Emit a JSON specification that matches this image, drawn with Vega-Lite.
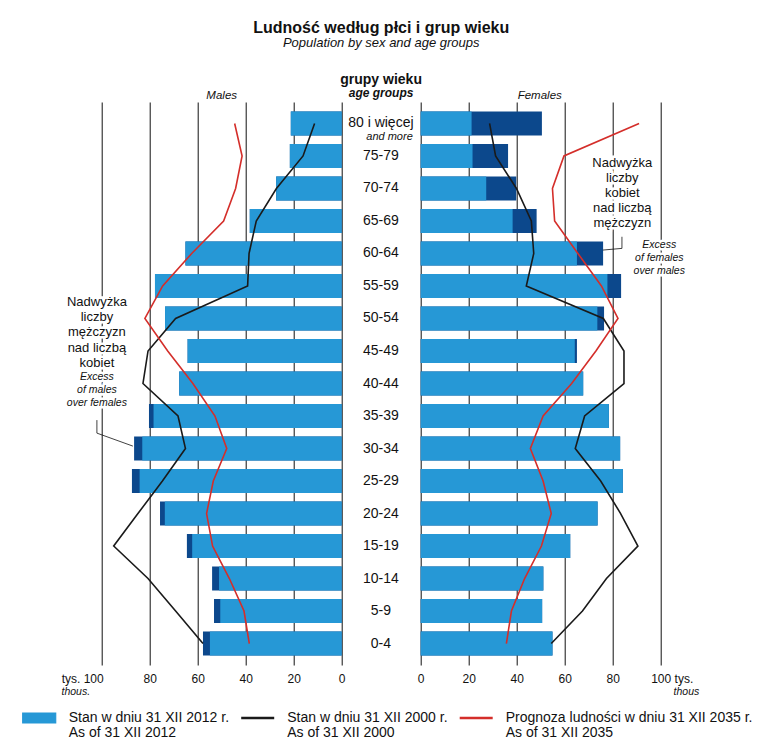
{
  "$schema": "https://vega.github.io/schema/vega-lite/v6.json",
  "width": 559,
  "height": 563,
  "autosize": {"type": "none"},
  "padding": {"left": 101.7, "top": 102, "right": 113.3, "bottom": 81},
  "title": {
    "text": "Ludność według płci i grup wieku",
    "subtitle": "Population by sex and age groups",
    "anchor": "middle",
    "font": "Liberation Sans",
    "fontSize": 16,
    "fontWeight": "bold",
    "color": "#111",
    "subtitleFont": "Liberation Sans",
    "subtitleFontSize": 13,
    "subtitleFontStyle": "italic",
    "subtitleColor": "#111",
    "subtitlePadding": 1,
    "offset": 23.5
  },
  "config": {
    "view": {"stroke": null},
    "font": "Liberation Sans",
    "text": {"font": "Liberation Sans", "color": "#111"}
  },
  "datasets": {
    "males": [
      {"i": 0, "age": "80 i więcej", "total": 21.2, "common": 21.2, "y2000": 11.3, "y2035": 44.6},
      {"i": 1, "age": "75-79", "total": 21.6, "common": 21.6, "y2000": 16.1, "y2035": 41.5},
      {"i": 2, "age": "70-74", "total": 27.3, "common": 27.3, "y2000": 27.2, "y2035": 44.2},
      {"i": 3, "age": "65-69", "total": 38.3, "common": 38.3, "y2000": 35.6, "y2035": 49.2},
      {"i": 4, "age": "60-64", "total": 65.1, "common": 65.1, "y2000": 38.6, "y2035": 62.5},
      {"i": 5, "age": "55-59", "total": 77.8, "common": 77.8, "y2000": 39.2, "y2035": 74.6},
      {"i": 6, "age": "50-54", "total": 73.6, "common": 73.6, "y2000": 69.2, "y2035": 82.0},
      {"i": 7, "age": "45-49", "total": 64.2, "common": 64.2, "y2000": 80.7, "y2035": 72.5},
      {"i": 8, "age": "40-44", "total": 67.7, "common": 67.7, "y2000": 82.8, "y2035": 62.0},
      {"i": 9, "age": "35-39", "total": 80.3, "common": 78.4, "y2000": 68.2, "y2035": 52.8},
      {"i": 10, "age": "30-34", "total": 86.5, "common": 83.1, "y2000": 65.1, "y2035": 47.9},
      {"i": 11, "age": "25-29", "total": 87.4, "common": 84.2, "y2000": 74.7, "y2035": 53.5},
      {"i": 12, "age": "20-24", "total": 75.7, "common": 73.7, "y2000": 84.9, "y2035": 56.3},
      {"i": 13, "age": "15-19", "total": 64.5, "common": 62.3, "y2000": 95.0, "y2035": 53.8},
      {"i": 14, "age": "10-14", "total": 54.0, "common": 51.1, "y2000": 80.7, "y2035": 46.8},
      {"i": 15, "age": "5-9", "total": 53.2, "common": 50.6, "y2000": 69.2, "y2035": 40.7},
      {"i": 16, "age": "0-4", "total": 57.8, "common": 54.9, "y2000": 57.8, "y2035": 38.5}
    ],
    "females": [
      {"i": 0, "age": "80 i więcej", "total": 50.5, "common": 21.2, "y2000": 28.7, "y2035": 91.0},
      {"i": 1, "age": "75-79", "total": 36.4, "common": 21.6, "y2000": 31.2, "y2035": 59.7},
      {"i": 2, "age": "70-74", "total": 39.8, "common": 27.3, "y2000": 39.9, "y2035": 54.9},
      {"i": 3, "age": "65-69", "total": 48.3, "common": 38.3, "y2000": 46.1, "y2035": 55.8},
      {"i": 4, "age": "60-64", "total": 76.0, "common": 65.1, "y2000": 47.1, "y2035": 65.5},
      {"i": 5, "age": "55-59", "total": 83.5, "common": 77.8, "y2000": 44.0, "y2035": 75.3},
      {"i": 6, "age": "50-54", "total": 76.4, "common": 73.6, "y2000": 76.1, "y2035": 82.2},
      {"i": 7, "age": "45-49", "total": 65.1, "common": 64.2, "y2000": 84.7, "y2035": 73.0},
      {"i": 8, "age": "40-44", "total": 67.7, "common": 67.7, "y2000": 84.7, "y2035": 62.9},
      {"i": 9, "age": "35-39", "total": 78.4, "common": 78.4, "y2000": 68.3, "y2035": 51.0},
      {"i": 10, "age": "30-34", "total": 83.1, "common": 83.1, "y2000": 64.4, "y2035": 45.7},
      {"i": 11, "age": "25-29", "total": 84.2, "common": 84.2, "y2000": 75.0, "y2035": 51.0},
      {"i": 12, "age": "20-24", "total": 73.7, "common": 73.7, "y2000": 83.3, "y2035": 54.4},
      {"i": 13, "age": "15-19", "total": 62.3, "common": 62.3, "y2000": 90.5, "y2035": 50.3},
      {"i": 14, "age": "10-14", "total": 51.1, "common": 51.1, "y2000": 77.4, "y2035": 43.3},
      {"i": 15, "age": "5-9", "total": 50.6, "common": 50.6, "y2000": 67.4, "y2035": 37.8},
      {"i": 16, "age": "0-4", "total": 54.9, "common": 54.9, "y2000": 54.4, "y2035": 35.7}
    ]
  },
  "layer": [
    {
      "data": {"name": "males"},
      "layer": [
        {
          "mark": {"type": "bar", "color": "#0c488c"},
          "encoding": {
            "x": {
              "field": "total", "type": "quantitative",
              "scale": {"domain": [-132.92, 100], "reverse": true, "nice": false, "zero": false},
              "axis": {
                "values": [0, 20, 40, 60, 80, 100], "title": null, "orient": "bottom",
                "grid": true, "gridColor": "#111", "gridWidth": 1, "gridOpacity": 1,
                "ticks": false, "domain": false, "labelPadding": 8.5, "labelFontSize": 12,
                "labelFont": "Liberation Sans", "labelColor": "#111", "labelFlush": false,
                "labelOverlap": false,
                "labelExpr": "datum.value == 100 ? 'tys. 100' : datum.label",
                "labelAlign": {"condition": {"test": "datum.value == 100", "value": "right"}, "value": "center"},
                "labelOffset": {"condition": {"test": "datum.value == 100", "value": 1.5}, "value": 0}
              }
            },
            "y": {
              "field": "age", "type": "nominal", "axis": null,
              "scale": {
                "domain": ["80 i więcej", "75-79", "70-74", "65-69", "60-64", "55-59", "50-54", "45-49", "40-44", "35-39", "30-34", "25-29", "20-24", "15-19", "10-14", "5-9", "0-4"],
                "paddingInner": 0.26, "paddingOuter": 0.29
              }
            }
          }
        },
        {
          "mark": {"type": "bar"},
          "encoding": {
            "x": {"field": "common", "type": "quantitative"},
            "y": {"field": "age", "type": "nominal", "axis": null},
            "color": {
              "datum": "2012", "type": "nominal",
              "scale": {"domain": ["2012", "2000", "2035"], "range": ["#2698d6", "#1a1a1a", "#d42e2a"]},
              "legend": {
                "orient": "none", "legendX": -79, "legendY": 609, "direction": "horizontal",
                "title": null, "padding": 0, "symbolOffset": 9.5, "labelOffset": 22.5,
                "columnPadding": 6.5, "labelFont": "Liberation Sans", "labelFontSize": 14,
                "labelColor": "#111", "labelLimit": 400,
                "labelExpr": "datum.value === '2012' ? ['Stan w dniu 31 XII 2012 r.', 'As of 31 XII 2012'] : datum.value === '2000' ? ['Stan w dniu 31 XII 2000 r.', 'As of 31 XII 2000'] : ['Prognoza ludności w dniu 31 XII 2035 r.', 'As of 31 XII 2035']",
                "encode": {
                  "symbols": {
                    "update": {
                      "shape": {"signal": "datum.value === '2012' ? 'M-1,-0.3H1V0.3H-1Z' : 'stroke'"},
                      "fill": {"signal": "datum.value === '2012' ? '#2698d6' : 'transparent'"},
                      "stroke": {"signal": "datum.value === '2012' ? '#1c3d6b' : datum.value === '2000' ? '#1a1a1a' : '#d42e2a'"},
                      "strokeWidth": {"signal": "datum.value === '2012' ? 1.2 : 2.4"},
                      "size": {"value": 1089},
                      "opacity": {"value": 1}
                    }
                  },
                  "labels": {"update": {"lineHeight": {"value": 15}}}
                }
              }
            }
          }
        },
        {
          "mark": {"type": "line", "strokeWidth": 1.6},
          "encoding": {
            "x": {"field": "y2000", "type": "quantitative"},
            "y": {"field": "age", "type": "nominal", "axis": null},
            "order": {"field": "i", "type": "quantitative"},
            "color": {"datum": "2000", "type": "nominal"}
          }
        },
        {
          "mark": {"type": "line", "strokeWidth": 1.6},
          "encoding": {
            "x": {"field": "y2035", "type": "quantitative"},
            "y": {"field": "age", "type": "nominal", "axis": null},
            "order": {"field": "i", "type": "quantitative"},
            "color": {"datum": "2035", "type": "nominal"}
          }
        },
        {
          "data": {"values": [{}]},
          "mark": {"type": "text", "fontSize": 13, "lineHeight": 15.2, "baseline": "middle", "align": "center", "stroke": "white", "strokeWidth": 5, "fill": "white", "yOffset": -16.4},
          "encoding": {
            "x": {"datum": 102.0, "type": "quantitative"},
            "y": {"datum": "50-54", "type": "nominal"},
            "text": {"value": ["Nadwyżka", "liczby", "mężczyzn", "nad liczbą", "kobiet"]}
          }
        },
        {
          "data": {"values": [{}]},
          "mark": {"type": "text", "fontSize": 10.5, "fontStyle": "italic", "lineHeight": 13, "baseline": "middle", "align": "center", "stroke": "white", "strokeWidth": 5, "fill": "white", "yOffset": -38.9},
          "encoding": {
            "x": {"datum": 102.0, "type": "quantitative"},
            "y": {"datum": "35-39", "type": "nominal"},
            "text": {"value": ["Excess", "of males", "over females"]}
          }
        },
        {
          "data": {"values": [{}]},
          "mark": {"type": "text", "fontSize": 13, "lineHeight": 15.2, "baseline": "middle", "align": "center", "color": "#111", "yOffset": -16.4},
          "encoding": {
            "x": {"datum": 102.0, "type": "quantitative"},
            "y": {"datum": "50-54", "type": "nominal"},
            "text": {"value": ["Nadwyżka", "liczby", "mężczyzn", "nad liczbą", "kobiet"]}
          }
        },
        {
          "data": {"values": [{}]},
          "mark": {"type": "text", "fontSize": 10.5, "fontStyle": "italic", "lineHeight": 13, "baseline": "middle", "align": "center", "color": "#111", "yOffset": -38.9},
          "encoding": {
            "x": {"datum": 102.0, "type": "quantitative"},
            "y": {"datum": "35-39", "type": "nominal"},
            "text": {"value": ["Excess", "of males", "over females"]}
          }
        },
        {
          "data": {"values": [{}]},
          "mark": {"type": "rule", "color": "#111", "strokeWidth": 0.8, "yOffset": 4.1, "y2Offset": -15.4},
          "encoding": {
            "x": {"datum": 102.0, "type": "quantitative"},
            "y": {"datum": "35-39", "type": "nominal"},
            "y2": {"datum": "30-34"}
          }
        },
        {
          "data": {"values": [{}]},
          "mark": {"type": "rule", "color": "#111", "strokeWidth": 0.8, "yOffset": -15.4, "y2Offset": -2.4},
          "encoding": {
            "x": {"datum": 102.0, "type": "quantitative"},
            "x2": {"datum": 87.0},
            "y": {"datum": "30-34", "type": "nominal"},
            "y2": {"datum": "30-34"}
          }
        },
        {
          "data": {"values": [{}]},
          "mark": {"type": "text", "fontSize": 11.5, "fontStyle": "italic", "baseline": "middle", "align": "center", "yOffset": -27.7},
          "encoding": {
            "x": {"datum": 50, "type": "quantitative"},
            "y": {"datum": "80 i więcej", "type": "nominal"},
            "text": {"value": "Males"}
          }
        },
        {
          "data": {"values": [{}]},
          "mark": {"type": "text", "fontSize": 10.5, "fontStyle": "italic", "baseline": "middle", "align": "center", "yOffset": 48.6},
          "encoding": {
            "x": {"datum": 110.8, "type": "quantitative"},
            "y": {"datum": "0-4", "type": "nominal"},
            "text": {"value": "thous."}
          }
        }
      ]
    },
    {
      "data": {"name": "females"},
      "layer": [
        {
          "mark": {"type": "bar", "color": "#0c488c"},
          "encoding": {
            "x": {
              "field": "total", "type": "quantitative",
              "scale": {"domain": [-132.92, 100], "nice": false, "zero": false},
              "axis": {
                "values": [0, 20, 40, 60, 80, 100], "title": null, "orient": "bottom",
                "grid": true, "gridColor": "#111", "gridWidth": 1, "gridOpacity": 1,
                "ticks": false, "domain": false, "labelPadding": 8.5, "labelFontSize": 12,
                "labelFont": "Liberation Sans", "labelColor": "#111", "labelFlush": false,
                "labelOverlap": false,
                "labelExpr": "datum.value == 100 ? '100 tys.' : datum.label",
                "labelAlign": {"condition": {"test": "datum.value == 100", "value": "left"}, "value": "center"},
                "labelOffset": {"condition": {"test": "datum.value == 100", "value": -10}, "value": 0}
              }
            },
            "y": {"field": "age", "type": "nominal", "axis": null}
          }
        },
        {
          "mark": {"type": "bar"},
          "encoding": {
            "x": {"field": "common", "type": "quantitative"},
            "y": {"field": "age", "type": "nominal", "axis": null},
            "color": {"datum": "2012", "type": "nominal"}
          }
        },
        {
          "mark": {"type": "line", "strokeWidth": 1.6},
          "encoding": {
            "x": {"field": "y2000", "type": "quantitative"},
            "y": {"field": "age", "type": "nominal", "axis": null},
            "order": {"field": "i", "type": "quantitative"},
            "color": {"datum": "2000", "type": "nominal"}
          }
        },
        {
          "mark": {"type": "line", "strokeWidth": 1.6},
          "encoding": {
            "x": {"field": "y2035", "type": "quantitative"},
            "y": {"field": "age", "type": "nominal", "axis": null},
            "order": {"field": "i", "type": "quantitative"},
            "color": {"datum": "2035", "type": "nominal"}
          }
        },
        {
          "mark": {"type": "text", "fontSize": 14, "baseline": "middle", "align": "center", "color": "#111"},
          "encoding": {
            "x": {"datum": -16.6, "type": "quantitative"},
            "y": {"field": "age", "type": "nominal", "axis": null},
            "text": {"field": "age", "type": "nominal"}
          }
        },
        {
          "data": {"values": [{}]},
          "mark": {"type": "text", "fontSize": 11, "fontStyle": "italic", "baseline": "middle", "align": "right", "yOffset": 13.3},
          "encoding": {
            "x": {"datum": -3.3, "type": "quantitative"},
            "y": {"datum": "80 i więcej", "type": "nominal"},
            "text": {"value": "and more"}
          }
        },
        {
          "data": {"values": [{}]},
          "mark": {"type": "text", "fontSize": 14, "fontWeight": "bold", "baseline": "middle", "align": "center", "yOffset": -43.4},
          "encoding": {
            "x": {"datum": -16.5, "type": "quantitative"},
            "y": {"datum": "80 i więcej", "type": "nominal"},
            "text": {"value": "grupy wieku"}
          }
        },
        {
          "data": {"values": [{}]},
          "mark": {"type": "text", "fontSize": 12, "fontWeight": "bold", "fontStyle": "italic", "baseline": "middle", "align": "center", "yOffset": -30.1},
          "encoding": {
            "x": {"datum": -16.5, "type": "quantitative"},
            "y": {"datum": "80 i więcej", "type": "nominal"},
            "text": {"value": "age groups"}
          }
        },
        {
          "data": {"values": [{}]},
          "mark": {"type": "text", "fontSize": 11.5, "fontStyle": "italic", "baseline": "middle", "align": "center", "yOffset": -27.7},
          "encoding": {
            "x": {"datum": 49.6, "type": "quantitative"},
            "y": {"datum": "80 i więcej", "type": "nominal"},
            "text": {"value": "Females"}
          }
        },
        {
          "data": {"values": [{}]},
          "mark": {"type": "text", "fontSize": 13, "lineHeight": 15, "baseline": "middle", "align": "center", "stroke": "white", "strokeWidth": 5, "fill": "white", "yOffset": -25.1},
          "encoding": {
            "x": {"datum": 84.0, "type": "quantitative"},
            "y": {"datum": "70-74", "type": "nominal"},
            "text": {"value": ["Nadwyżka", "liczby", "kobiet", "nad liczbą", "mężczyzn"]}
          }
        },
        {
          "data": {"values": [{}]},
          "mark": {"type": "text", "fontSize": 10.5, "fontStyle": "italic", "lineHeight": 13, "baseline": "middle", "align": "center", "stroke": "white", "strokeWidth": 5, "fill": "white", "yOffset": -8.4},
          "encoding": {
            "x": {"datum": 99.4, "type": "quantitative"},
            "y": {"datum": "60-64", "type": "nominal"},
            "text": {"value": ["Excess", "of females", "over males"]}
          }
        },
        {
          "data": {"values": [{}]},
          "mark": {"type": "text", "fontSize": 13, "lineHeight": 15, "baseline": "middle", "align": "center", "color": "#111", "yOffset": -25.1},
          "encoding": {
            "x": {"datum": 84.0, "type": "quantitative"},
            "y": {"datum": "70-74", "type": "nominal"},
            "text": {"value": ["Nadwyżka", "liczby", "kobiet", "nad liczbą", "mężczyzn"]}
          }
        },
        {
          "data": {"values": [{}]},
          "mark": {"type": "text", "fontSize": 10.5, "fontStyle": "italic", "lineHeight": 13, "baseline": "middle", "align": "center", "color": "#111", "yOffset": -8.4},
          "encoding": {
            "x": {"datum": 99.4, "type": "quantitative"},
            "y": {"datum": "60-64", "type": "nominal"},
            "text": {"value": ["Excess", "of females", "over males"]}
          }
        },
        {
          "data": {"values": [{}]},
          "mark": {"type": "rule", "color": "#111", "strokeWidth": 0.8, "yOffset": -3.4, "y2Offset": -5.1},
          "encoding": {
            "x": {"datum": 75.9, "type": "quantitative"},
            "x2": {"datum": 83.85},
            "y": {"datum": "60-64", "type": "nominal"},
            "y2": {"datum": "60-64"}
          }
        },
        {
          "data": {"values": [{}]},
          "mark": {"type": "rule", "color": "#111", "strokeWidth": 0.8, "yOffset": -5.1, "y2Offset": -16.7},
          "encoding": {
            "x": {"datum": 83.85, "type": "quantitative"},
            "y": {"datum": "60-64", "type": "nominal"},
            "y2": {"datum": "60-64"}
          }
        },
        {
          "data": {"values": [{}]},
          "mark": {"type": "text", "fontSize": 10.5, "fontStyle": "italic", "baseline": "middle", "align": "center", "yOffset": 48.6},
          "encoding": {
            "x": {"datum": 110.7, "type": "quantitative"},
            "y": {"datum": "0-4", "type": "nominal"},
            "text": {"value": "thous"}
          }
        }
      ]
    }
  ],
  "resolve": {"scale": {"x": "independent"}, "axis": {"x": "independent"}}
}
